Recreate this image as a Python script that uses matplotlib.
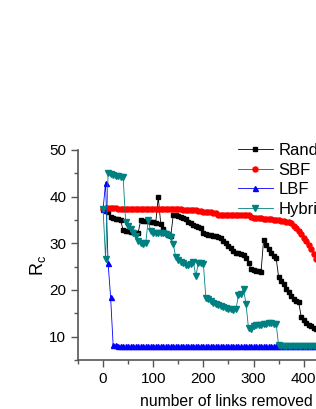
import numpy as np
import matplotlib
matplotlib.use("Agg")
import matplotlib.pyplot as plt
from matplotlib.ticker import MultipleLocator, FixedLocator

plt.rcParams['font.family'] = ['Liberation Sans', 'DejaVu Sans']
plt.rcParams['mathtext.default'] = 'regular'

# links removed (every 5 links)
links = np.arange(0, 435, 5)

random_rc = [37.3, 37.0, 36.7, 35.6, 35.4, 35.3, 35.2, 35.0, 32.8, 32.7,
             32.6, 32.5, 32.4, 32.3, 32.3, 34.9, 34.8, 34.7, 34.7, 34.6,
             34.5, 34.4, 39.9, 34.2, 33.0, 32.3, 31.8, 31.6, 36.1, 36.0,
             35.8, 35.6, 35.5, 35.3, 34.6, 34.3, 34.0, 33.8, 33.5, 33.3,
             32.3, 32.0, 31.8, 31.7, 31.5, 31.6, 31.3, 31.1, 30.6, 30.0,
             29.5, 29.0, 28.3, 28.0, 27.9, 27.8, 27.5, 26.8, 25.8, 24.5,
             24.2, 24.1, 24.0, 23.9, 30.7, 29.6, 28.8, 28.0, 27.3, 26.9,
             22.8, 22.0, 21.2, 20.3, 19.6, 18.8, 18.0, 17.7, 17.4, 14.3,
             13.6, 13.0, 12.5, 12.2, 11.9, 11.6, 11.3]

sbf_rc = [37.3, 37.5, 37.5, 37.5, 37.5, 37.5, 37.4, 37.4, 37.4, 37.4,
          37.4, 37.4, 37.4, 37.4, 37.4, 37.4, 37.4, 37.4, 37.4, 37.4,
          37.4, 37.3, 37.3, 37.3, 37.3, 37.3, 37.3, 37.3, 37.3, 37.3,
          37.3, 37.3, 37.2, 37.2, 37.2, 37.2, 37.2, 37.2, 37.0, 36.9,
          36.8, 36.8, 36.7, 36.7, 36.6, 36.6, 36.1, 36.1, 36.1, 36.1,
          36.1, 36.1, 36.0, 36.0, 36.0, 36.0, 36.0, 36.0, 36.0, 35.6,
          35.5, 35.5, 35.4, 35.4, 35.3, 35.3, 35.2, 35.2, 35.1, 35.0,
          34.9, 34.8, 34.7, 34.6, 34.5, 34.3, 33.7, 33.2, 32.6, 32.1,
          31.2, 30.5, 29.7, 28.8, 27.8, 26.6, 25.5]

lbf_rc = [37.3, 43.0, 25.8, 18.5, 8.3, 8.2, 8.1, 8.0, 8.0, 7.9,
          7.9, 7.9, 7.9, 7.9, 7.9, 7.9, 7.9, 7.9, 7.9, 7.9,
          7.9, 7.9, 7.9, 7.9, 7.9, 7.9, 7.9, 7.9, 7.9, 7.9,
          7.9, 7.9, 7.9, 7.9, 7.9, 7.9, 7.9, 7.9, 7.9, 7.9,
          7.9, 7.9, 7.9, 7.9, 7.9, 7.9, 7.9, 7.9, 7.9, 7.9,
          7.9, 7.9, 7.9, 7.9, 7.9, 7.9, 7.9, 7.9, 7.9, 7.9,
          7.9, 7.9, 7.9, 7.9, 7.9, 7.9, 7.9, 7.9, 7.9, 7.9,
          7.9, 7.9, 7.9, 7.9, 7.9, 7.9, 7.9, 7.9, 7.9, 7.9,
          7.9, 7.9, 7.9, 7.9, 7.9, 7.9, 7.9]

hybrid_rc = [37.3, 26.6, 45.0, 44.8, 44.7, 44.5, 44.4, 44.3, 44.2, 34.6,
             33.8, 33.0, 32.2, 31.5, 30.6, 30.0, 29.8, 30.0, 35.0, 32.6,
             32.3, 32.2, 32.2, 32.3, 32.3, 32.1, 31.8, 31.3, 29.8, 27.0,
             26.5, 26.0, 25.7, 25.3, 25.3, 25.6, 26.0, 23.0, 25.8, 25.7,
             25.5, 18.2, 18.0, 17.6, 17.2, 17.0, 16.8, 16.6, 16.4, 16.2,
             16.0, 15.9, 15.8, 15.9, 19.0, 19.2, 20.2, 17.0, 11.8, 11.6,
             12.3, 12.4, 12.5, 12.6, 12.7, 12.8, 12.9, 12.9, 12.8, 12.8,
             8.2, 8.1, 8.1, 8.1, 8.1, 8.1, 8.1, 8.1, 8.1, 8.1,
             8.1, 8.1, 8.1, 8.1, 8.1, 8.1, 8.1]

labels = ["Random", "SBF", "LBF", "Hybrid"]
x_ticks = [0, 100, 200, 300, 400]

fig = plt.figure(figsize=(3.16, 4.09), dpi=100)
# axes run past the right edge of the figure, like the cropped original
ax = fig.add_axes([78 / 316, 1 - 360 / 409, 295.9 / 316, 210 / 409])

ax.plot(links, random_rc, color="black", lw=0.6, marker="s", ms=3.3, label=labels[0])
ax.plot(links, sbf_rc, color="red", lw=0.6, marker="o", ms=3.6, label=labels[1])
ax.plot(links, lbf_rc, color="blue", lw=0.6, marker="^", ms=3.6, label=labels[2])
ax.plot(links, hybrid_rc, color="#008080", lw=0.6, marker="v", ms=3.8, label=labels[3])

ax.set_xlim(-50, 540)
ax.set_ylim(5, 50)
ax.xaxis.set_major_locator(FixedLocator(x_ticks))
ax.xaxis.set_minor_locator(MultipleLocator(50))
ax.yaxis.set_major_locator(MultipleLocator(10))
ax.yaxis.set_minor_locator(MultipleLocator(5))

for side in ["top", "right"]:
    ax.spines[side].set_visible(False)
for side in ["left", "bottom"]:
    ax.spines[side].set_color("#555555")
    ax.spines[side].set_linewidth(1.2)

ax.tick_params(which="both", direction="out", color="#555555", width=1.0, labelsize=11)
ax.tick_params(which="major", length=5)
ax.tick_params(which="minor", length=3)

ax.set_xlabel("number of links removed", fontsize=11.3, labelpad=6)
ax.set_ylabel("R$_c$", fontsize=13)
ax.yaxis.set_label_coords(-0.1, 0.45)

ax.legend(loc="upper left", bbox_to_anchor=(230 / 316, 1 - 135 / 409),
          bbox_transform=fig.transFigure, frameon=False, fontsize=12,
          numpoints=1, handlelength=2.05, handletextpad=0.36, labelspacing=0.27,
          borderpad=0)

fig.savefig("out.png", dpi=100)
